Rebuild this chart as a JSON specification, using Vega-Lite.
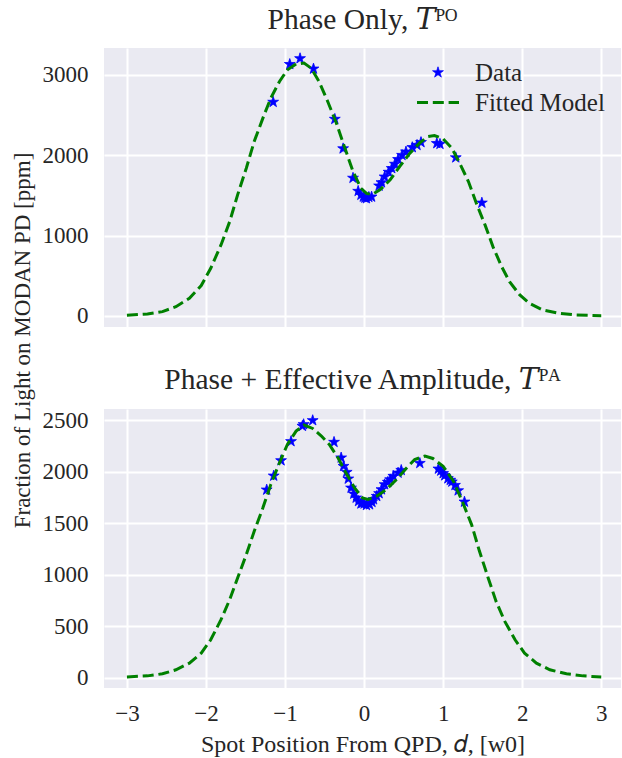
{
  "$schema": "https://vega.github.io/schema/vega-lite/v6.json",
  "autosize": {"type": "none"},
  "padding": {"left": 104, "top": 48, "right": 518, "bottom": 710},
  "background": "white",
  "config": {
    "font": "Liberation Serif",
    "view": {"fill": "#EAEAF2", "stroke": null},
    "axis": {"domain": false, "ticks": false, "tickSize": 0, "gridColor": "#ffffff", "gridWidth": 2, "labelColor": "#262626", "titleColor": "#262626", "labelFontSize": 23, "titleFontSize": 23, "titleFontWeight": "normal"},
    "title": {"fontSize": 29.5, "fontWeight": "normal", "color": "#262626", "font": "Liberation Serif, DejaVu Serif"}
  },
  "bounds": "flush",
  "spacing": 82,
  "datasets": {
    "dataPO": [
      {"d": -1.15, "v": 2661, "series": "Data"},
      {"d": -0.94, "v": 3131, "series": "Data"},
      {"d": -0.81, "v": 3203, "series": "Data"},
      {"d": -0.64, "v": 3074, "series": "Data"},
      {"d": -0.37, "v": 2449, "series": "Data"},
      {"d": -0.265, "v": 2082, "series": "Data"},
      {"d": -0.14, "v": 1716, "series": "Data"},
      {"d": -0.075, "v": 1553, "series": "Data"},
      {"d": -0.04, "v": 1505, "series": "Data"},
      {"d": -0.01, "v": 1482, "series": "Data"},
      {"d": 0.01, "v": 1470, "series": "Data"},
      {"d": 0.03, "v": 1462, "series": "Data"},
      {"d": 0.06, "v": 1478, "series": "Data"},
      {"d": 0.095, "v": 1482, "series": "Data"},
      {"d": 0.19, "v": 1619, "series": "Data"},
      {"d": 0.22, "v": 1660, "series": "Data"},
      {"d": 0.26, "v": 1731, "series": "Data"},
      {"d": 0.31, "v": 1790, "series": "Data"},
      {"d": 0.35, "v": 1836, "series": "Data"},
      {"d": 0.39, "v": 1890, "series": "Data"},
      {"d": 0.43, "v": 1948, "series": "Data"},
      {"d": 0.48, "v": 2000, "series": "Data"},
      {"d": 0.53, "v": 2042, "series": "Data"},
      {"d": 0.61, "v": 2097, "series": "Data"},
      {"d": 0.67, "v": 2125, "series": "Data"},
      {"d": 0.72, "v": 2160, "series": "Data"},
      {"d": 0.92, "v": 2147, "series": "Data"},
      {"d": 0.96, "v": 2138, "series": "Data"},
      {"d": 1.16, "v": 1970, "series": "Data"},
      {"d": 1.49, "v": 1407, "series": "Data"}
    ],
    "fitPO": [
      {"d": -3.0, "v": 8, "series": "Fitted Model"},
      {"d": -2.74, "v": 25, "series": "Fitted Model"},
      {"d": -2.55, "v": 54, "series": "Fitted Model"},
      {"d": -2.38, "v": 116, "series": "Fitted Model"},
      {"d": -2.21, "v": 220, "series": "Fitted Model"},
      {"d": -2.06, "v": 378, "series": "Fitted Model"},
      {"d": -1.94, "v": 593, "series": "Fitted Model"},
      {"d": -1.81, "v": 884, "series": "Fitted Model"},
      {"d": -1.70, "v": 1174, "series": "Fitted Model"},
      {"d": -1.60, "v": 1506, "series": "Fitted Model"},
      {"d": -1.49, "v": 1838, "series": "Fitted Model"},
      {"d": -1.39, "v": 2170, "series": "Fitted Model"},
      {"d": -1.28, "v": 2461, "series": "Fitted Model"},
      {"d": -1.18, "v": 2710, "series": "Fitted Model"},
      {"d": -1.07, "v": 2917, "series": "Fitted Model"},
      {"d": -0.97, "v": 3062, "series": "Fitted Model"},
      {"d": -0.86, "v": 3133, "series": "Fitted Model"},
      {"d": -0.76, "v": 3145, "series": "Fitted Model"},
      {"d": -0.67, "v": 3083, "series": "Fitted Model"},
      {"d": -0.57, "v": 2917, "series": "Fitted Model"},
      {"d": -0.46, "v": 2668, "series": "Fitted Model"},
      {"d": -0.35, "v": 2398, "series": "Fitted Model"},
      {"d": -0.25, "v": 2108, "series": "Fitted Model"},
      {"d": -0.14, "v": 1797, "series": "Fitted Model"},
      {"d": -0.04, "v": 1589, "series": "Fitted Model"},
      {"d": 0.03, "v": 1525, "series": "Fitted Model"},
      {"d": 0.10, "v": 1510, "series": "Fitted Model"},
      {"d": 0.20, "v": 1568, "series": "Fitted Model"},
      {"d": 0.33, "v": 1693, "series": "Fitted Model"},
      {"d": 0.45, "v": 1859, "series": "Fitted Model"},
      {"d": 0.58, "v": 2025, "series": "Fitted Model"},
      {"d": 0.71, "v": 2158, "series": "Fitted Model"},
      {"d": 0.81, "v": 2232, "series": "Fitted Model"},
      {"d": 0.89, "v": 2245, "series": "Fitted Model"},
      {"d": 1.0, "v": 2203, "series": "Fitted Model"},
      {"d": 1.11, "v": 2087, "series": "Fitted Model"},
      {"d": 1.21, "v": 1900, "series": "Fitted Model"},
      {"d": 1.32, "v": 1672, "series": "Fitted Model"},
      {"d": 1.42, "v": 1402, "series": "Fitted Model"},
      {"d": 1.53, "v": 1133, "series": "Fitted Model"},
      {"d": 1.63, "v": 863, "series": "Fitted Model"},
      {"d": 1.74, "v": 614, "series": "Fitted Model"},
      {"d": 1.84, "v": 427, "series": "Fitted Model"},
      {"d": 1.97, "v": 261, "series": "Fitted Model"},
      {"d": 2.09, "v": 158, "series": "Fitted Model"},
      {"d": 2.26, "v": 75, "series": "Fitted Model"},
      {"d": 2.47, "v": 33, "series": "Fitted Model"},
      {"d": 2.68, "v": 12, "series": "Fitted Model"},
      {"d": 3.0, "v": 4, "series": "Fitted Model"}
    ],
    "dataPA": [
      {"d": -1.232, "v": 1825, "series": "Data"},
      {"d": -1.143, "v": 1961, "series": "Data"},
      {"d": -1.05, "v": 2110, "series": "Data"},
      {"d": -0.924, "v": 2296, "series": "Data"},
      {"d": -0.78, "v": 2445, "series": "Data"},
      {"d": -0.765, "v": 2461, "series": "Data"},
      {"d": -0.65, "v": 2500, "series": "Data"},
      {"d": -0.38, "v": 2289, "series": "Data"},
      {"d": -0.29, "v": 2137, "series": "Data"},
      {"d": -0.26, "v": 2055, "series": "Data"},
      {"d": -0.22, "v": 1997, "series": "Data"},
      {"d": -0.20, "v": 1932, "series": "Data"},
      {"d": -0.165, "v": 1844, "series": "Data"},
      {"d": -0.13, "v": 1786, "series": "Data"},
      {"d": -0.10, "v": 1747, "series": "Data"},
      {"d": -0.07, "v": 1714, "series": "Data"},
      {"d": -0.04, "v": 1690, "series": "Data"},
      {"d": -0.02, "v": 1700, "series": "Data"},
      {"d": 0.0, "v": 1690, "series": "Data"},
      {"d": 0.03, "v": 1675, "series": "Data"},
      {"d": 0.07, "v": 1682, "series": "Data"},
      {"d": 0.10, "v": 1705, "series": "Data"},
      {"d": 0.12, "v": 1731, "series": "Data"},
      {"d": 0.16, "v": 1763, "series": "Data"},
      {"d": 0.19, "v": 1790, "series": "Data"},
      {"d": 0.22, "v": 1828, "series": "Data"},
      {"d": 0.26, "v": 1877, "series": "Data"},
      {"d": 0.30, "v": 1900, "series": "Data"},
      {"d": 0.33, "v": 1925, "series": "Data"},
      {"d": 0.37, "v": 1958, "series": "Data"},
      {"d": 0.43, "v": 1990, "series": "Data"},
      {"d": 0.47, "v": 2016, "series": "Data"},
      {"d": 0.705, "v": 2084, "series": "Data"},
      {"d": 0.94, "v": 2029, "series": "Data"},
      {"d": 0.97, "v": 2010, "series": "Data"},
      {"d": 1.0, "v": 1985, "series": "Data"},
      {"d": 1.02, "v": 1964, "series": "Data"},
      {"d": 1.06, "v": 1935, "series": "Data"},
      {"d": 1.09, "v": 1920, "series": "Data"},
      {"d": 1.11, "v": 1903, "series": "Data"},
      {"d": 1.15, "v": 1870, "series": "Data"},
      {"d": 1.19, "v": 1818, "series": "Data"},
      {"d": 1.27, "v": 1708, "series": "Data"}
    ],
    "fitPA": [
      {"d": -3.0, "v": 6, "series": "Fitted Model"},
      {"d": -2.74, "v": 16, "series": "Fitted Model"},
      {"d": -2.55, "v": 36, "series": "Fitted Model"},
      {"d": -2.38, "v": 75, "series": "Fitted Model"},
      {"d": -2.21, "v": 140, "series": "Fitted Model"},
      {"d": -2.06, "v": 237, "series": "Fitted Model"},
      {"d": -1.94, "v": 367, "series": "Fitted Model"},
      {"d": -1.81, "v": 562, "series": "Fitted Model"},
      {"d": -1.70, "v": 757, "series": "Fitted Model"},
      {"d": -1.60, "v": 968, "series": "Fitted Model"},
      {"d": -1.49, "v": 1195, "series": "Fitted Model"},
      {"d": -1.39, "v": 1422, "series": "Fitted Model"},
      {"d": -1.28, "v": 1650, "series": "Fitted Model"},
      {"d": -1.18, "v": 1877, "series": "Fitted Model"},
      {"d": -1.07, "v": 2088, "series": "Fitted Model"},
      {"d": -0.97, "v": 2266, "series": "Fitted Model"},
      {"d": -0.86, "v": 2396, "series": "Fitted Model"},
      {"d": -0.76, "v": 2455, "series": "Fitted Model"},
      {"d": -0.65, "v": 2422, "series": "Fitted Model"},
      {"d": -0.54, "v": 2348, "series": "Fitted Model"},
      {"d": -0.44, "v": 2266, "series": "Fitted Model"},
      {"d": -0.33, "v": 2137, "series": "Fitted Model"},
      {"d": -0.23, "v": 1990, "series": "Fitted Model"},
      {"d": -0.12, "v": 1844, "series": "Fitted Model"},
      {"d": -0.02, "v": 1747, "series": "Fitted Model"},
      {"d": 0.05, "v": 1731, "series": "Fitted Model"},
      {"d": 0.16, "v": 1763, "series": "Fitted Model"},
      {"d": 0.28, "v": 1828, "series": "Fitted Model"},
      {"d": 0.41, "v": 1925, "series": "Fitted Model"},
      {"d": 0.54, "v": 2039, "series": "Fitted Model"},
      {"d": 0.64, "v": 2120, "series": "Fitted Model"},
      {"d": 0.77, "v": 2153, "series": "Fitted Model"},
      {"d": 0.87, "v": 2130, "series": "Fitted Model"},
      {"d": 1.0, "v": 2055, "series": "Fitted Model"},
      {"d": 1.13, "v": 1909, "series": "Fitted Model"},
      {"d": 1.25, "v": 1698, "series": "Fitted Model"},
      {"d": 1.36, "v": 1487, "series": "Fitted Model"},
      {"d": 1.46, "v": 1227, "series": "Fitted Model"},
      {"d": 1.57, "v": 968, "series": "Fitted Model"},
      {"d": 1.67, "v": 740, "series": "Fitted Model"},
      {"d": 1.78, "v": 546, "series": "Fitted Model"},
      {"d": 1.91, "v": 367, "series": "Fitted Model"},
      {"d": 2.03, "v": 237, "series": "Fitted Model"},
      {"d": 2.18, "v": 140, "series": "Fitted Model"},
      {"d": 2.35, "v": 75, "series": "Fitted Model"},
      {"d": 2.56, "v": 36, "series": "Fitted Model"},
      {"d": 2.77, "v": 16, "series": "Fitted Model"},
      {"d": 3.0, "v": 5, "series": "Fitted Model"}
    ]
  },
  "vconcat": [
    {
      "width": 517,
      "height": 279,
      "title": {"text": "Phase Only, 𝑇ᴾᴼ", "offset": -10, "baseline": "alphabetic", "frame": "group"},
      "layer": [
        {
          "data": {"name": "dataPO"},
          "mark": {"type": "point", "shape": "M0,-1L0.2245,-0.309L0.951,-0.309L0.363,0.118L0.588,0.809L0,0.382L-0.588,0.809L-0.363,0.118L-0.951,-0.309L-0.2245,-0.309Z", "filled": true, "size": 130, "opacity": 1, "stroke": "#0000ff", "strokeWidth": 0.8},
          "encoding": {
            "x": {"field": "d", "type": "quantitative", "scale": {"domain": [-3.29, 3.25], "nice": false, "zero": false}, "axis": {"values": [-3, -2, -1, 0, 1, 2, 3], "labels": false, "title": null, "grid": true}},
            "y": {"field": "v", "type": "quantitative", "scale": {"domain": [-137, 3333], "nice": false, "zero": false}, "axis": {"values": [0, 1000, 2000, 3000], "format": "d", "labelPadding": 16, "labelBaseline": "middle", "title": "Fraction of Light on MODAN PD [ppm]", "titleX": -75, "titleY": 292, "titleBaseline": "alphabetic", "titleAlign": "center", "titleFontSize": 23}},
            "color": {"field": "series", "type": "nominal", "scale": {"domain": ["Data", "Fitted Model"], "range": ["#0000ff", "#008000"]},
              "legend": {"title": null, "orient": "none", "legendX": 321.5, "legendY": 12, "symbolSize": 900, "labelOffset": 24.5, "labelFontSize": 25, "labelColor": "#262626", "rowPadding": 4, "padding": 0,
                "encode": {"symbols": {"update": {
                  "shape": {"signal": "datum.value === 'Data' ? 'M0,-1L0.2245,-0.309L0.951,-0.309L0.363,0.118L0.588,0.809L0,0.382L-0.588,0.809L-0.363,0.118L-0.951,-0.309L-0.2245,-0.309Z' : 'M-1.4,0L1.4,0'"},
                  "size": {"signal": "datum.value === 'Data' ? 130 : 900"},
                  "fill": {"signal": "datum.value === 'Data' ? '#0000ff' : 'transparent'"},
                  "stroke": {"signal": "datum.value === 'Data' ? '#0000ff' : '#008000'"},
                  "strokeWidth": {"signal": "datum.value === 'Data' ? 0.8 : 3"},
                  "strokeDash": {"signal": "datum.value === 'Data' ? [1, 0] : [11, 4.8]"},
                  "opacity": {"value": 1}
                }}}}}
          }
        },
        {
          "data": {"name": "fitPO"},
          "mark": {"type": "line", "strokeWidth": 3, "strokeDash": [11, 4.8]},
          "encoding": {
            "x": {"field": "d", "type": "quantitative"},
            "y": {"field": "v", "type": "quantitative"},
            "color": {"field": "series", "type": "nominal",
              "legend": {"title": null, "orient": "none", "legendX": 321.5, "legendY": 12, "symbolSize": 900, "labelOffset": 24.5, "labelFontSize": 25, "labelColor": "#262626", "rowPadding": 4, "padding": 0,
                "encode": {"symbols": {"update": {
                  "shape": {"signal": "datum.value === 'Data' ? 'M0,-1L0.2245,-0.309L0.951,-0.309L0.363,0.118L0.588,0.809L0,0.382L-0.588,0.809L-0.363,0.118L-0.951,-0.309L-0.2245,-0.309Z' : 'M-1.4,0L1.4,0'"},
                  "size": {"signal": "datum.value === 'Data' ? 130 : 900"},
                  "fill": {"signal": "datum.value === 'Data' ? '#0000ff' : 'transparent'"},
                  "stroke": {"signal": "datum.value === 'Data' ? '#0000ff' : '#008000'"},
                  "strokeWidth": {"signal": "datum.value === 'Data' ? 0.8 : 3"},
                  "strokeDash": {"signal": "datum.value === 'Data' ? [1, 0] : [11, 4.8]"},
                  "opacity": {"value": 1}
                }}}}}
          }
        }
      ]
    },
    {
      "width": 517,
      "height": 279,
      "title": {"text": "Phase + Effective Amplitude, 𝑇ᴾᴬ", "offset": -9, "baseline": "alphabetic", "frame": "group"},
      "layer": [
        {
          "data": {"name": "dataPA"},
          "mark": {"type": "point", "shape": "M0,-1L0.2245,-0.309L0.951,-0.309L0.363,0.118L0.588,0.809L0,0.382L-0.588,0.809L-0.363,0.118L-0.951,-0.309L-0.2245,-0.309Z", "filled": true, "size": 130, "opacity": 1, "stroke": "#0000ff", "strokeWidth": 0.8},
          "encoding": {
            "x": {"field": "d", "type": "quantitative", "scale": {"domain": [-3.29, 3.25], "nice": false, "zero": false}, "axis": {"values": [-3, -2, -1, 0, 1, 2, 3], "format": "d", "labelPadding": 32, "labelBaseline": "alphabetic", "title": "Spot Position From QPD, 𝑑, [w0]", "titleY": 63, "titleBaseline": "alphabetic", "titleFontSize": 24, "grid": true}},
            "y": {"field": "v", "type": "quantitative", "scale": {"domain": [-102, 2611], "nice": false, "zero": false}, "axis": {"values": [0, 500, 1000, 1500, 2000, 2500], "format": "d", "labelPadding": 16, "labelBaseline": "middle", "title": null}},
            "color": {"field": "series", "type": "nominal", "scale": {"domain": ["Data", "Fitted Model"], "range": ["#0000ff", "#008000"]}, "legend": null}
          }
        },
        {
          "data": {"name": "fitPA"},
          "mark": {"type": "line", "strokeWidth": 3, "strokeDash": [11, 4.8]},
          "encoding": {
            "x": {"field": "d", "type": "quantitative"},
            "y": {"field": "v", "type": "quantitative"},
            "color": {"field": "series", "type": "nominal", "legend": null}
          }
        }
      ]
    }
  ],
  "resolve": {"scale": {"color": "independent", "y": "independent", "x": "independent"}, "legend": {"color": "independent"}}
}
